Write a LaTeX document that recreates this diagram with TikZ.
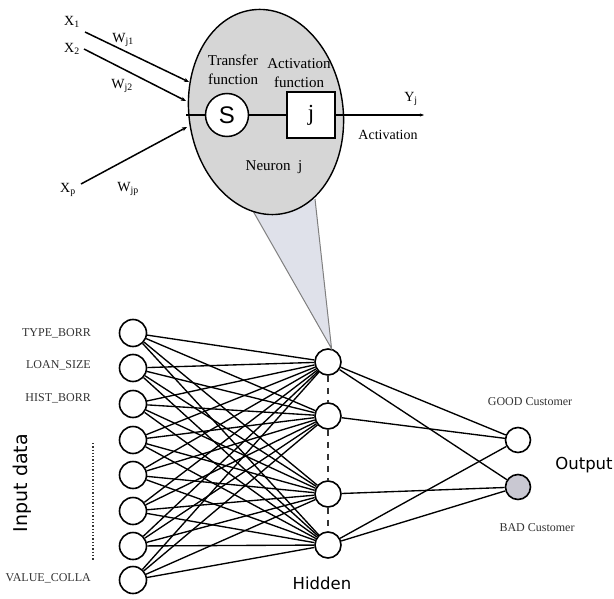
\documentclass[tikz,border=0pt]{standalone}
\usepackage{fontspec}
\setmainfont{Liberation Serif}
\newfontfamily\dejavu{DejaVu Sans}
\newfontfamily\libsans{Liberation Sans}
\usetikzlibrary{shapes.geometric,arrows.meta}
\definecolor{ellgray}{HTML}{D6D6D6}
\definecolor{conegray}{HTML}{DFE1EA}
\definecolor{badgray}{HTML}{C9C8D2}
\definecolor{txtgray}{HTML}{333333}
\tikzset{
  inp/.style={circle, draw, line width=1.6bp, minimum size=27bp, inner sep=0pt, fill=white},
  hid/.style={circle, draw, line width=1.6bp, minimum size=26bp, inner sep=0pt, fill=white},
  outn/.style={circle, draw, line width=1.6bp, minimum size=25bp, inner sep=0pt},
  conn/.style={line width=1.35bp},
  hdash/.style={line width=1.1bp, txtgray, dash pattern=on 6bp off 6bp},
  inlabel/.style={anchor=east, text=txtgray, font=\fontsize{12bp}{14bp}\selectfont, inner sep=0pt},
  toplab/.style={font=\fontsize{15bp}{19bp}\selectfont, align=center, inner sep=0pt},
  wlab/.style={font=\fontsize{14bp}{16bp}\selectfont, inner sep=0pt},
  bigsans/.style={font=\dejavu\fontsize{16.5bp}{19bp}\selectfont, inner sep=0pt},
  inarrow/.style={line width=1.5bp, -{Stealth[length=5bp,width=4bp]}}
}
\begin{document}
\begin{tikzpicture}[x=1bp,y=-1bp]
\useasboundingbox[fill=white] (0,0) rectangle (614,599);

% ---------------- network ----------------
\foreach \n/\y in {1/333,2/368,3/404,4/440,5/475,6/511,7/546,8/580}
  \node[inp] (i\n) at (133,\y) {};
\foreach \n/\y in {1/362,2/416,3/494,4/545}
  \node[hid] (h\n) at (328,\y) {};
\node[outn, fill=white] (g) at (518,440) {};
\node[outn, fill=badgray] (b) at (518,487) {};

\foreach \a in {1,...,8}
  \foreach \c in {1,...,4}
    \draw[conn] (i\a) -- (h\c);

\draw[conn] (h1) -- (g);
\draw[conn] (h1) -- (b);
\draw[conn] (h2) -- (g);
\draw[conn] (h3) -- (b);
\draw[conn] (h4) -- (g);
\draw[conn] (h4) -- (b);

\draw[hdash] (h1) -- (h2);
\draw[hdash] (h2) -- (h3);
\draw[hdash] (h3) -- (h4);

% input labels
\node[inlabel] (l1) at (91,333) {TYPE\_BORR};
\node[inlabel] (l2) at (91,365) {LOAN\_SIZE};
\node[inlabel] (l3) at (91,398) {HIST\_BORR};
\node[inlabel] (l8) at (91,578) {VALUE\_COLLA};
\coordinate (dotA) at (93,443);
\coordinate (dotB) at (93,560);
\draw[line width=1.3bp, dotted, txtgray] (dotA) -- (dotB);

\node[font=\dejavu\fontsize{19bp}{21bp}\selectfont, rotate=90, inner sep=0pt] (indata) at (22,483) {Input data};
\node[bigsans] (hidlab) at (322,583) {Hidden};
\node[bigsans] (outlab) at (584,465) {Output};
\node[font=\fontsize{12bp}{14bp}\selectfont, text=txtgray, inner sep=0pt] (goodlab) at (530,402) {GOOD Customer};
\node[font=\fontsize{12bp}{14bp}\selectfont, text=txtgray, inner sep=0pt] (badlab) at (537,528) {BAD Customer};

% ---------------- cone ----------------
\coordinate (coneL) at (253,211);
\coordinate (coneR) at (315,199);
\fill[conegray] (coneL) -- (h1.75) -- (coneR) -- cycle;
\draw[line width=1bp, gray] (coneL) -- (h1.75) -- (coneR);

% ---------------- neuron ----------------
\node[ellipse, draw, line width=1.4bp, fill=ellgray, minimum width=154bp, minimum height=206bp, inner sep=0pt, rotate=8] (neuron) at (266,112) {};

\node[circle, draw, line width=1.5bp, fill=white, minimum size=43bp, inner sep=0pt, font=\libsans\fontsize{24bp}{26bp}\selectfont] (S) at (227,115) {S};
\node[draw, line width=1.5bp, fill=white, minimum width=48bp, minimum height=46bp, inner sep=0pt, font=\fontsize{23bp}{25bp}\selectfont] (J) at (311,115) {j};
\coordinate (inL) at (186,115);
\coordinate (yend) at (424,115);
\draw[line width=1.5bp] (inL) -- (S);
\draw[line width=1.5bp] (S) -- (J);
\draw[line width=1.5bp, -{Stealth[length=4bp,width=3bp]}] (J) -- (yend);

\node[toplab] (tf) at (233,70) {Transfer\\function};
\node[toplab] (af) at (299,73) {Activation\\function};
\node[toplab] (nj) at (274,167) {Neuron~~j};
\node[wlab] (yj) at (411,99) {Y\textsubscript{j}};
\node[font=\fontsize{14bp}{16bp}\selectfont, inner sep=0pt] (act) at (388,135) {Activation};

% inputs to neuron
\node[wlab] (x1) at (72,22) {X\textsubscript{1}};
\node[wlab] (x2) at (72,49) {X\textsubscript{2}};
\node[wlab] (xp) at (68,190) {X\textsubscript{p}};
\coordinate (x1s) at (85,32);
\coordinate (x2s) at (84,49);
\coordinate (xps) at (81,184);
\coordinate (x1e) at (189,82);
\coordinate (x2e) at (186,101);
\coordinate (xpe) at (187,127);
\draw[inarrow] (x1s) -- (x1e);
\draw[inarrow] (x2s) -- (x2e);
\draw[inarrow] (xps) -- (xpe);
\node[wlab] (w1) at (123,40) {W\textsubscript{j1}};
\node[wlab] (w2) at (122,86) {W\textsubscript{j2}};
\node[wlab] (wp) at (128,189) {W\textsubscript{jp}};
\end{tikzpicture}
\end{document}
